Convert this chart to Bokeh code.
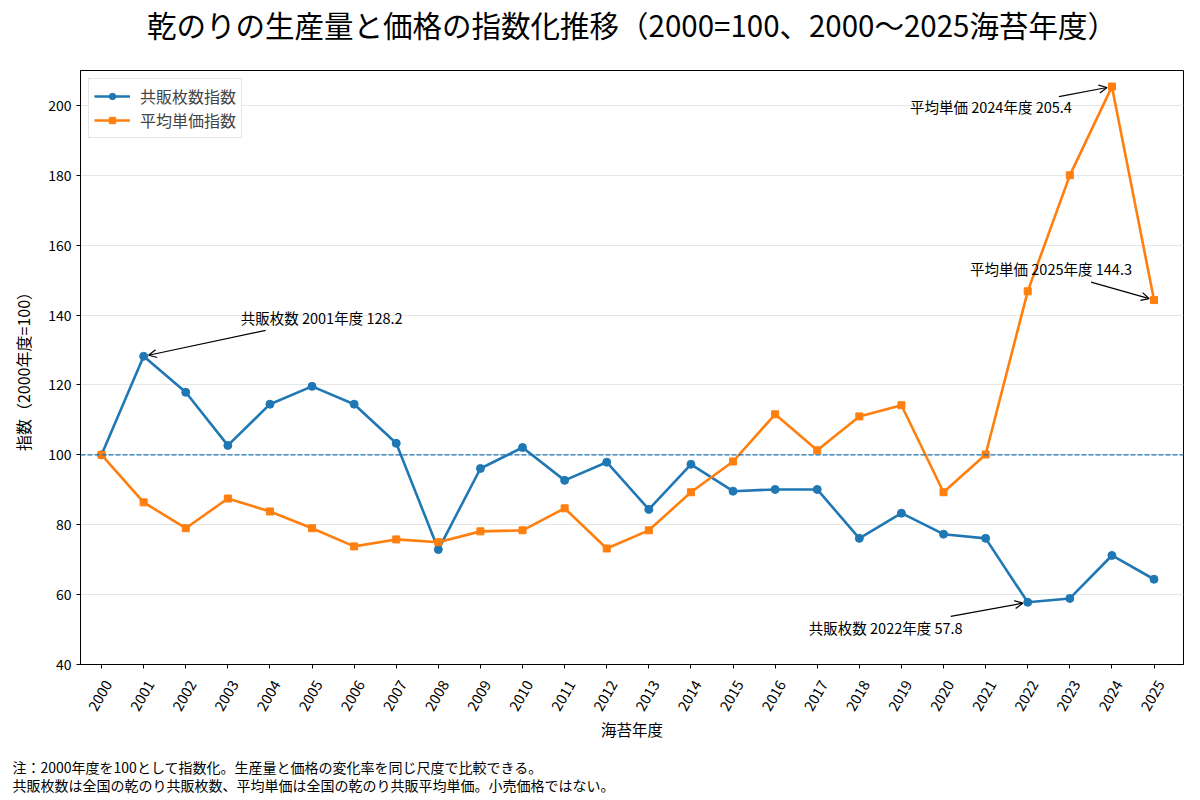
import math
from bokeh.plotting import figure
from bokeh.layouts import column
from bokeh.models import Span, Arrow, OpenHead, Label, Title, FixedTicker, Range1d
from bokeh.core.properties import value
from bokeh.embed import file_html
from bokeh.resources import INLINE

# data: index values (2000 = 100)
years = list(range(2000, 2026))
kyohan_index = [100.0, 128.2, 117.9, 102.7, 114.5, 119.6, 114.5, 103.3, 72.9, 96.1,
                102.1, 92.7, 97.9, 84.4, 97.3, 89.6, 90.1, 90.1, 76.1, 83.3,
                77.3, 76.1, 57.8, 58.9, 71.2, 64.4]
price_index = [100.0, 86.4, 79.0, 87.5, 83.8, 79.0, 73.8, 75.8, 75.0, 78.1,
               78.4, 84.7, 73.2, 78.4, 89.3, 98.1, 111.6, 101.3, 111.0, 114.2,
               89.3, 100.1, 146.8, 180.0, 205.4, 144.3]
y_ticks = [40, 60, 80, 100, 120, 140, 160, 180, 200]

series_names = {"kyohan": "共販枚数", "price": "平均単価"}
legend_names = {"kyohan": "共販枚数指数", "price": "平均単価指数"}

# annotated points: series, year, text offset (px), arrow start offset (px)
notes = [
    ("kyohan", 2001, (178, -39), (122, -26)),
    ("price", 2024, (-121, 20), (-53, 10)),
    ("price", 2025, (-103, -32), (-63, -18)),
    ("kyohan", 2022, (-142, 25), (-77, 14)),
]

title_text = "乾のりの生産量と価格の指数化推移（2000=100、2000～2025海苔年度）"
x_label = "海苔年度"
y_label = "指数（2000年度=100）"
note_lines = [
    "注：2000年度を100として指数化。生産量と価格の変化率を同じ尺度で比較できる。",
    "共販枚数は全国の乾のり共販枚数、平均単価は全国の乾のり共販平均単価。小売価格ではない。",
]

FONT = "Noto Sans CJK JP"
BLUE = "#1f77b4"
ORANGE = "#ff7f0e"

x0, x1 = 1999.5, 2025.7
y0, y1 = 40, 210
fw, fh = 1103, 594
px_x = fw / (x1 - x0)
px_y = fh / (y1 - y0)
xr = Range1d(x0, x1)

p = figure(frame_width=fw, frame_height=fh, x_range=xr, y_range=(y0, y1),
           output_backend="svg", toolbar_location=None,
           min_border_left=80, min_border_right=16, min_border_top=70,
           min_border_bottom=10)

p.title.text = title_text
p.title.align = "center"
p.title.text_font = FONT
p.title.text_font_size = "29.5px"
p.title.text_font_style = "normal"
p.title.text_color = "black"
p.title.standoff = 0
# blank spacer between the title and the frame
p.add_layout(Title(text=" ", text_font=FONT, text_font_size="16px", standoff=0), "above")

ref = Span(location=100, dimension="width", line_color=BLUE, line_width=1.2,
           line_dash="5 2")
p.add_layout(ref)

p.line(years, kyohan_index, line_color=BLUE, line_width=2.6,
       legend_label=legend_names["kyohan"])
p.scatter(years, kyohan_index, marker="circle", size=8, color=BLUE,
          legend_label=legend_names["kyohan"])
p.line(years, price_index, line_color=ORANGE, line_width=2.6,
       legend_label=legend_names["price"])
p.scatter(years, price_index, marker="square", size=7, color=ORANGE,
          legend_label=legend_names["price"])

data = {"kyohan": dict(zip(years, kyohan_index)), "price": dict(zip(years, price_index))}
for key, yr, (tx, ty), (ax, ay) in notes:
    val = data[key][yr]
    p.add_layout(Label(x=yr, y=val, x_offset=tx, y_offset=-ty,
                       text=f"{series_names[key]} {yr}年度 {val}",
                       text_font=FONT, text_font_size="14.5px", text_color="black",
                       text_align="center", text_baseline="middle"))
    # shrink arrow end a little before the marker
    d = math.hypot(ax, ay)
    ex, ey = ax / d * 5, ay / d * 5
    p.add_layout(Arrow(x_start=yr + ax / px_x, y_start=val - ay / px_y,
                       x_end=yr + ex / px_x, y_end=val - ey / px_y,
                       line_color="black", line_width=1.2,
                       end=OpenHead(size=8, line_color="black", line_width=1.2)))

p.xaxis.ticker = FixedTicker(ticks=years)
p.yaxis.ticker = FixedTicker(ticks=y_ticks)
p.yaxis.axis_label = y_label
for ax_ in (p.xaxis, p.yaxis):
    ax_.axis_label_text_font = FONT
    ax_.axis_label_text_font_style = "normal"
    ax_.axis_label_text_color = "black"
    ax_.major_label_text_font = FONT
    ax_.major_label_text_font_size = "14px"
    ax_.major_label_text_color = "black"
    ax_.axis_line_color = "black"
    ax_.major_tick_line_color = "black"
    ax_.major_tick_out = 4
    ax_.major_tick_in = 0
    ax_.minor_tick_line_color = None
p.yaxis.axis_label_text_font_size = "16px"
p.yaxis.axis_label_standoff = 10
p.xaxis.major_label_text_alpha = 0

p.xgrid.grid_line_color = None
p.ygrid.grid_line_color = "#e6e6e6"
p.outline_line_color = "black"
p.outline_line_width = 1
p.outline_line_alpha = 1

p.legend.location = "top_left"
p.legend.margin = 8
p.legend.label_text_font = FONT
p.legend.label_text_font_size = "16px"
p.legend.glyph_width = 36
p.legend.glyph_height = 16
p.legend.label_height = 16
p.legend.label_standoff = 10
p.legend.border_line_color = "#cccccc"
p.legend.padding = 5
p.legend.spacing = 0

# strip below the frame: year labels, axis title, note
lab_h = 40
q = figure(frame_width=fw, frame_height=lab_h, x_range=xr, y_range=(0, lab_h),
           output_backend="svg", toolbar_location=None,
           x_axis_location=None, y_axis_location=None,
           min_border_left=80, min_border_right=16, min_border_top=0,
           min_border_bottom=84)
q.outline_line_color = None
q.grid.grid_line_color = None
q.text(x=years, y=[lab_h - 21] * len(years), text=[str(y) for y in years],
       angle=math.pi / 3, x_offset=-1.5, text_align="center", text_baseline="middle",
       text_font=value(FONT), text_font_size="14.5px", text_color="black")
q.add_layout(Title(text=x_label, align="center", text_font=FONT,
                   text_font_size="15.5px", text_font_style="normal",
                   text_color="black", standoff=2), "below")
q.add_layout(Title(text="\n".join(note_lines), align="left", offset=-68,
                   text_font=FONT, text_font_size="14px",
                   text_font_style="normal", text_color="black",
                   text_line_height=0.9, standoff=28), "below")

layout = column(p, q, spacing=0)
open("out.html", "w").write(file_html(layout, INLINE))
